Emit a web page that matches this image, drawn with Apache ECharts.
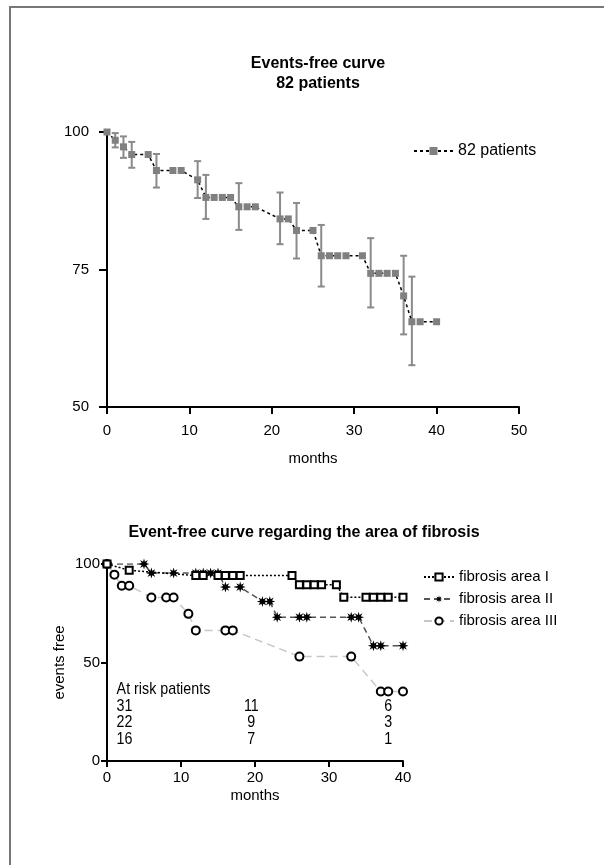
<!DOCTYPE html>
<html>
<head>
<meta charset="utf-8">
<script src="https://cdn.jsdelivr.net/npm/echarts@6/dist/echarts.min.js"></script>
<style>
  * { margin: 0; padding: 0; }
  body { background: #fff; }
  #frame { position: absolute; left: 9px; top: 6px; width: 595px; height: 859px; border-top: 2px solid #777; border-left: 2px solid #777; }
  #chart { position: absolute; left: 0; top: 0; width: 604px; height: 865px; }
</style>
</head>
<body>
<div id="frame"></div>
<div id="chart"></div>
<script>
  // top chart: 82 patients
  var topX = [0, 1, 2, 3, 5, 6, 8, 9, 11, 12, 13, 14, 15, 16, 17, 18, 21, 22, 23, 25, 26, 27, 28, 29, 31, 32, 33, 34, 35, 36, 37, 38, 40];
  var topY = [100, 98.5, 97.3, 95.9, 95.9, 93.0, 93.0, 93.0, 91.3, 88.1, 88.1, 88.1, 88.1, 86.4, 86.4, 86.4, 84.2, 84.2, 82.1, 82.1, 77.5, 77.5, 77.5, 77.5, 77.5, 74.3, 74.3, 74.3, 74.3, 70.2, 65.5, 65.5, 65.5];
  // error bars
  var errX = [1, 2, 3, 6, 11, 12, 16, 21, 23, 26, 32, 36, 37];
  var errHi = [99.8, 99.2, 98.2, 96.0, 94.7, 92.2, 90.7, 89.0, 87.1, 83.1, 80.7, 77.5, 73.7];
  var errLo = [97.2, 95.3, 93.5, 89.9, 88.0, 84.2, 82.2, 79.6, 77.0, 71.9, 68.1, 63.2, 57.6];

  // bottom chart: area of fibrosis
  var areaIX = [0, 3, 12, 13, 15, 16, 17, 18, 25, 26, 27, 28, 29, 31, 32, 35, 36, 37, 38, 40];
  var areaIY = [100, 96.8, 94.1, 94.1, 94.1, 94.1, 94.1, 94.1, 94.1, 89.5, 89.5, 89.5, 89.5, 89.5, 83.1, 83.1, 83.1, 83.1, 83.1, 83.1];
  var areaIIX = [0, 5, 6, 9, 12, 13, 14, 15, 16, 18, 21, 22, 23, 26, 27, 33, 34, 36, 37, 40];
  var areaIIY = [100, 100, 95.4, 95.4, 95.4, 95.4, 95.4, 95.4, 88.3, 88.3, 81, 81, 73, 73, 73, 73, 73, 58.5, 58.5, 58.5];
  var areaIIIX = [0, 1, 2, 3, 6, 8, 9, 11, 12, 16, 17, 26, 33, 37, 38, 40];
  var areaIIIY = [100, 94.6, 89, 89, 83, 83, 83, 74.7, 66.3, 66.3, 66.3, 53, 53, 35.3, 35.3, 35.3];

  // at risk table
  var riskHeader = 'At risk patients';
  var riskCols = [2.25, 19.5, 38];
  var riskRowsY = [27.9, 19.5, 10.8];
  var riskRows = [['31', '11', '6'], ['22', '9', '3'], ['16', '7', '1']];

  var sans = "'Liberation Sans', Arial, sans-serif";

  function pairs(xs, ys) {
    return xs.map(function (x, i) { return [x, ys[i]]; });
  }

  var errData = errX.map(function (x, i) { return [x, errLo[i], errHi[i]]; });

  var riskData = [[1.3, 36.4, riskHeader, 'left']];
  riskRows.forEach(function (row, r) {
    row.forEach(function (t, c) {
      riskData.push([c === 0 ? 1.3 : riskCols[c], riskRowsY[r], t, c === 0 ? 'left' : 'center']);
    });
  });

  var star = 'path://M20,10 L14.16,11.72 L17.07,17.07 L11.72,14.16 L10,20 L8.28,14.16 L2.93,17.07 L5.84,11.72 L0,10 L5.84,8.28 L2.93,2.93 L8.28,5.84 L10,0 L11.72,5.84 L17.07,2.93 L14.16,8.28 Z';

  var axisLine = { lineStyle: { color: '#000', width: 2 } };

  var chart = echarts.init(document.getElementById('chart'));
  chart.setOption({
    animation: false,
    title: [
      {
        text: 'Events-free curve\n82 patients',
        left: 313, top: 49, textAlign: 'center',
        textStyle: { fontFamily: sans, fontSize: 16, fontWeight: 'bold', color: '#000', lineHeight: 20 }
      },
      {
        text: 'Event-free curve regarding the area of fibrosis',
        left: 299, top: 520, textAlign: 'center',
        textStyle: { fontFamily: sans, fontSize: 16, fontWeight: 'bold', color: '#000' }
      }
    ],
    legend: [
      {
        data: ['82 patients'],
        left: 408, top: 138, orient: 'vertical',
        itemWidth: 39, itemHeight: 10,
        textStyle: { fontFamily: sans, fontSize: 16, color: '#000' }
      },
      {
        data: ['fibrosis area I', 'fibrosis area II', 'fibrosis area III'],
        left: 418, top: 561, orient: 'vertical',
        itemWidth: 30, itemHeight: 9, itemGap: 0,
        textStyle: { fontFamily: sans, fontSize: 15, lineHeight: 22, color: '#000' }
      }
    ],
    grid: [
      { left: 107, top: 132, width: 412, height: 275 },
      { left: 107, top: 564, width: 296, height: 197 }
    ],
    xAxis: [
      {
        gridIndex: 0, type: 'value', min: 0, max: 50, interval: 10,
        name: 'months', nameLocation: 'middle', nameGap: 44,
        nameTextStyle: { fontFamily: sans, fontSize: 15, color: '#000' },
        axisLine: axisLine,
        axisTick: { show: true, length: 7, lineStyle: { color: '#000', width: 2 } },
        axisLabel: { fontFamily: sans, fontSize: 15, color: '#000', margin: 16 },
        splitLine: { show: false }
      },
      {
        gridIndex: 1, type: 'value', min: 0, max: 40, interval: 10,
        name: 'months', nameLocation: 'middle', nameGap: 27,
        nameTextStyle: { fontFamily: sans, fontSize: 15, color: '#000' },
        axisLine: axisLine,
        axisTick: { show: true, length: 6, lineStyle: { color: '#000', width: 2 } },
        axisLabel: { fontFamily: sans, fontSize: 15, color: '#000', margin: 9 },
        splitLine: { show: false }
      }
    ],
    yAxis: [
      {
        gridIndex: 0, type: 'value', min: 50, max: 100, interval: 25,
        axisLine: { show: true, lineStyle: { color: '#000', width: 2 } },
        axisTick: { show: true, length: 8, lineStyle: { color: '#000', width: 2 } },
        axisLabel: { fontFamily: sans, fontSize: 15, color: '#000', margin: 18 },
        splitLine: { show: false }
      },
      {
        gridIndex: 1, type: 'value', min: 0, max: 100, interval: 50,
        name: 'events free', nameLocation: 'middle', nameGap: 40,
        nameTextStyle: { fontFamily: sans, fontSize: 15, color: '#000' },
        axisLine: { show: true, lineStyle: { color: '#000', width: 2 } },
        axisTick: { show: true, length: 6, lineStyle: { color: '#000', width: 2 } },
        axisLabel: { fontFamily: sans, fontSize: 15, color: '#000', margin: 7 },
        splitLine: { show: false }
      }
    ],
    series: [
      {
        name: 'errors', type: 'custom', xAxisIndex: 0, yAxisIndex: 0, z: 1,
        data: errData,
        renderItem: function (params, api) {
          var top = api.coord([api.value(0), api.value(2)]);
          var bot = api.coord([api.value(0), api.value(1)]);
          var st = { stroke: '#8a8a8a', lineWidth: 2 };
          return {
            type: 'group',
            children: [
              { type: 'line', shape: { x1: top[0], y1: top[1], x2: bot[0], y2: bot[1] }, style: st },
              { type: 'line', shape: { x1: top[0] - 3.5, y1: top[1], x2: top[0] + 3.5, y2: top[1] }, style: st },
              { type: 'line', shape: { x1: bot[0] - 3.5, y1: bot[1], x2: bot[0] + 3.5, y2: bot[1] }, style: st }
            ]
          };
        }
      },
      {
        name: '82 patients', type: 'line', xAxisIndex: 0, yAxisIndex: 0, z: 3,
        data: pairs(topX, topY),
        symbol: 'rect', symbolSize: 7,
        itemStyle: { color: '#808080' },
        lineStyle: { color: '#000', width: 1.5, type: [3, 3] }
      },
      {
        name: 'fibrosis area I', type: 'line', xAxisIndex: 1, yAxisIndex: 1, z: 4,
        data: pairs(areaIX, areaIY),
        symbol: 'rect', symbolSize: 7,
        itemStyle: { color: '#fff', borderColor: '#000', borderWidth: 2 },
        lineStyle: { color: '#000', width: 1.5, type: [2, 2] }
      },
      {
        name: 'fibrosis area II', type: 'line', xAxisIndex: 1, yAxisIndex: 1, z: 3,
        data: pairs(areaIIX, areaIIY),
        symbol: star, symbolSize: 11,
        itemStyle: { color: '#000' },
        lineStyle: { color: '#555', width: 1.5, type: [6, 4] }
      },
      {
        name: 'fibrosis area III', type: 'line', xAxisIndex: 1, yAxisIndex: 1, z: 2,
        data: pairs(areaIIIX, areaIIIY),
        symbol: 'circle', symbolSize: 8,
        itemStyle: { color: '#fff', borderColor: '#000', borderWidth: 2 },
        lineStyle: { color: '#c8c8c8', width: 1.5, type: [8, 5] }
      },
      {
        name: 'at risk', type: 'custom', xAxisIndex: 1, yAxisIndex: 1, z: 5,
        data: riskData,
        renderItem: function (params, api) {
          var p = api.coord([api.value(0), api.value(1)]);
          var d = riskData[params.dataIndex];
          return {
            type: 'text', x: p[0], y: p[1], scaleX: 0.84,
            style: { text: d[2], fontFamily: sans, fontSize: 17, fill: '#000', align: d[3], verticalAlign: 'middle' }
          };
        }
      }
    ]
  });
</script>
</body>
</html>
